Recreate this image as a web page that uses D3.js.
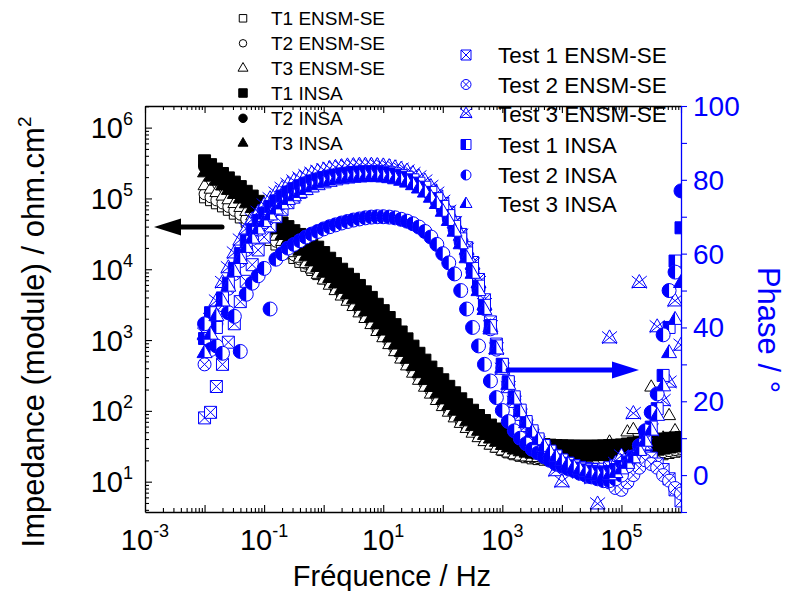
<!DOCTYPE html>
<html><head><meta charset="utf-8">
<script src="https://cdn.jsdelivr.net/npm/d3@7"></script>
<style>body{margin:0;background:#fff}svg{display:block}text{font-family:Arial,"Liberation Sans",sans-serif}</style>
</head><body><svg id="c" width="797" height="591"></svg>
<script>
// ---------- DATA ----------
const freqHz = [
0.0100,0.0126,0.0158,0.0200,0.0251,0.0316,0.0398,0.0501,0.0631,0.0794,
0.100,0.126,0.158,0.200,0.251,0.316,0.398,0.501,0.631,0.794,
1.00,1.26,1.58,2.00,2.51,3.16,3.98,5.01,6.31,7.94,
10.0,12.6,15.8,20.0,25.1,31.6,39.8,50.1,63.1,79.4,
100,126,158,200,251,316,398,501,631,794,
1000,1259,1585,1995,2512,3162,3981,5012,6310,7943,
10000,12589,15849,19953,25119,31623,39811,50119,63096,79433,
100000,125893,158489,199526,251189,316228,398107,501187,630957,794328,
1000000];

// |Z| in ohm.cm2
const zT1ENSM = [1.02e5,9.3e4,8.4e4,7.6e4,6.8e4,6.0e4,5.3e4,4.6e4,4.0e4,3.45e4,
2.95e4,2.55e4,2.2e4,1.9e4,1.65e4,1.42e4,1.25e4,1.1e4,9.6e3,8.4e3,
7.3e3,6.3e3,5.4e3,4.6e3,3.9e3,3.3e3,2.75e3,2.3e3,1.9e3,1.55e3,
1.26e3,1.01e3,800,635,505,400,318,255,204,165,
134,110,90,74,62,52,44.5,38.5,34,30.5,
27.5,25.5,24,22.8,21.8,21,20.5,20.1,19.8,19.6,
19.4,19.3,19.2,19.1,19.1,19.1,19.2,19.3,19.4,19.6,
19.8,20.1,20.5,21,21.5,22,23,24,25,26,27];
const zT2ENSM = [1.15e5,1.04e5,9.4e4,8.5e4,7.6e4,6.7e4,5.9e4,5.1e4,4.45e4,3.85e4,
3.3e4,2.85e4,2.45e4,2.1e4,1.82e4,1.57e4,1.37e4,1.2e4,1.05e4,9.2e3,
8.0e3,6.9e3,5.9e3,5.0e3,4.25e3,3.6e3,3.0e3,2.5e3,2.07e3,1.7e3,
1.38e3,1.1e3,875,695,550,437,347,278,222,179,
145,119,97,80,66.5,56,47.5,41,36,32,
29,26.8,25.1,23.8,22.8,22,21.5,21.1,20.8,20.6,
20.5,20.5,20.4,20.4,20.4,20.4,20.5,20.6,20.8,21,
21.3,21.7,22.2,22.8,23.5,24.2,25,26,27,28,29];
const zT3ENSM = [1.5e5,1.34e5,1.2e5,1.07e5,9.5e4,8.4e4,7.4e4,6.5e4,5.6e4,4.8e4,
4.1e4,3.45e4,2.9e4,2.45e4,2.05e4,1.7e4,1.42e4,1.19e4,1.0e4,8.4e3,
7.0e3,5.9e3,4.95e3,4.15e3,3.5e3,2.95e3,2.4e3,2.0e3,1.64e3,1.31e3,
1.07e3,855,680,535,428,338,268,214,171,139,
114,95,79,66,56,48,41.5,36.5,32.5,29.5,
27,25.2,23.8,22.8,22.2,21.9,21.7,21.5,21.4,21.3,
21.2,21.2,21.3,21.5,22,23,25,27,36,29,
26,50,54,34,47,215,32,41,85,52,30];
const zT1INSA = [3.4e5,3.0e5,2.6e5,2.25e5,1.95e5,1.7e5,1.47e5,1.26e5,1.08e5,9.1e4,
7.6e4,6.4e4,5.4e4,4.5e4,4.0e4,3.5e4,3.1e4,2.7e4,2.4e4,2.05e4,
1.72e4,1.43e4,1.2e4,1.0e4,8.5e3,7.2e3,5.9e3,4.8e3,4.0e3,3.2e3,
2.6e3,2.08e3,1.65e3,1.3e3,1.04e3,820,650,520,415,335,
275,222,180,148,122,102,86,73,63,55.5,
49.5,45,41,38.5,36.5,35,34,33.3,32.8,32.4,
32.1,31.9,31.8,31.7,31.7,31.7,31.8,32,32.3,32.6,
33,34,35,36,37,38,39,40,41,41.5,42];
const zT2INSA = [2.8e5,2.45e5,2.15e5,1.85e5,1.6e5,1.4e5,1.2e5,1.03e5,8.9e4,7.5e4,
6.2e4,5.2e4,4.4e4,3.7e4,3.1e4,2.75e4,2.4e4,2.05e4,1.74e4,1.46e4,
1.21e4,1.01e4,8.4e3,7.1e3,5.9e3,5.0e3,4.1e3,3.4e3,2.8e3,2.25e3,
1.84e3,1.47e3,1.16e3,920,735,580,460,370,297,238,
195,161,132,110,92,77.5,66,57,50,44.5,
39.5,36,33.5,31.5,30,28.8,28,27.3,26.8,26.5,
26.3,26.1,26,26,26,26,26,26.1,26.2,26.4,
26.6,27,27.5,28,28.5,29,29.5,30,31,32,33];
const zT3INSA = [2.3e5,2.0e5,1.75e5,1.5e5,1.3e5,1.14e5,9.8e4,8.4e4,7.2e4,6.1e4,
5.1e4,4.3e4,3.6e4,3.0e4,2.55e4,2.15e4,1.8e4,1.5e4,1.27e4,1.06e4,
8.8e3,7.4e3,6.2e3,5.2e3,4.35e3,3.7e3,3.0e3,2.5e3,2.05e3,1.64e3,
1.34e3,1.07e3,850,670,535,422,335,268,214,174,
143,119,99,83,70,60,51.5,45,40,36,
32.5,30,28,26.5,25.3,24.5,23.9,23.4,23.1,22.9,
22.7,22.6,22.5,22.5,22.5,22.5,22.6,22.7,22.9,23.1,
23.4,23.8,24.3,24.8,25.5,26,27,28,29,30,31];

// Phase in degrees
const pTest1ENSM = [15.5,17,24,30,36,41,47,52.5,57,61,
64.5,67.5,70,72,73.8,75.3,76.6,77.6,78.4,79.1,
79.7,80.2,80.6,81,81.3,81.5,81.7,81.8,81.9,81.9,
81.9,81.8,81.6,81.3,80.9,80.3,79.5,78.5,77.2,75.6,
73.6,71.2,68.4,65.2,61.6,57.6,53,47.5,41.5,35.5,
30,25,20.5,16.8,13.8,11.3,9.3,7.6,6.2,5.0,
4.0,3.2,2.6,2.1,1.8,1.6,1.5,1.6,2,2.5,
3,3.5,4,4.5,5,4.6,3,1.5,-1,-4,-7];
const pTest2ENSM = [30,36,41,46,50.5,54.5,58,61,64,66.5,
68.5,70.5,72.2,73.7,75,76.1,77.1,78,78.7,79.3,
79.8,80.3,80.7,81,81.3,81.5,81.6,81.7,81.7,81.7,
81.6,81.4,81.1,80.7,80.2,79.5,78.6,77.4,76,74.2,
72,69.4,66.4,63,59.2,55,50.2,45,39.5,34,
29,24.5,20.5,17,14,11.5,9.5,7.8,6.3,5,
3.9,3,2.2,1.5,0.9,0.3,-0.3,-1,-2,-3.5,
-4,-2,0,2,4,3,2,0,-1.5,-3.5,-5];
const pTest3ENSM = [38,42,47,52,56,60,63.5,66.5,69,71,
73,74.7,76.2,77.5,78.6,79.5,80.3,81,81.6,82.1,
82.5,82.9,83.2,83.4,83.6,83.7,83.8,83.8,83.8,83.7,
83.6,83.4,83.1,82.7,82.2,81.5,80.6,79.5,78,76.2,
74,71.3,68.2,64.8,61,57,52,46,40,34,
28.5,23.5,19.5,16,13,10.5,8.5,6.8,5.3,1,
-2,2,1.2,0.5,0,-1,-8,0,37,3,
5,4,16.5,52,8,12,40,20,25,47,35];
const pTest1INSA = [37,44,40,48,52,56,60,63.5,66.5,69,
71,72.8,74.3,75.6,76.7,77.6,78.4,79.1,79.7,80.2,
80.6,81,81.3,81.6,81.8,82,82.1,82.2,82.2,82.2,
82.1,81.9,81.6,81.2,80.7,80,79.1,78,76.6,74.9,
72.8,70.3,67.4,64,60.2,56,51.2,46,40.5,35,
30,25.3,21.2,17.6,14.5,12,9.8,8,6.5,5.2,
4.1,3.2,2.5,1.9,1.4,1,0.8,0.8,1,1.5,
2.3,3.5,5,7,9.5,13,18,27,40,58,67];
const pTest2INSA = [41,34,35,33,44,43,33.5,49,52,54,
56,45,58.5,60,61.5,62.5,63.5,64.5,65.3,66,
66.7,67.3,67.8,68.3,68.7,69.1,69.4,69.7,69.9,70,
70,69.9,69.7,69.3,68.8,68.1,67.2,66,64.5,62.5,
60,57.5,54.5,50,45,40,35,30,25.5,21,
17.5,14.5,12,10,8.5,7,6,5,4,3,
2.5,1.8,1.2,0.5,0,-0.5,-1,-1.5,-1.5,-1,
0,2.5,5,8,12,17,22,38,50,55,77];
const pTest3INSA = [33,38,43,47,51,55,58.5,61.5,64,66.5,
68.5,70.3,71.9,73.3,74.5,75.5,76.4,77.2,77.9,78.5,
79,79.4,79.8,80.1,80.3,80.5,80.6,80.7,80.7,80.7,
80.6,80.4,80.1,79.7,79.2,78.5,77.6,76.5,75.1,73.4,
71.3,68.8,65.9,62.5,58.7,54.5,49.8,44.7,39.4,34,
29,24.4,20.4,17,14,11.5,9.4,7.6,6.1,4.8,
3.7,2.8,2,1.3,0.7,0.2,-0.2,-0.3,-0.1,0.5,
1.5,3,4.5,6.5,9,12,16,24,33,42,52];

const impedanceNames = ["T1 ENSM-SE","T2 ENSM-SE","T3 ENSM-SE","T1 INSA","T2 INSA","T3 INSA"];
const phaseNames = ["Test 1 ENSM-SE","Test 2 ENSM-SE","Test 3 ENSM-SE","Test 1 INSA","Test 2 INSA","Test 3 INSA"];
const xLabelExps = [-3,-1,1,3,5];
const yLabelExps = [1,2,3,4,5,6];
const phaseLabels = [0,20,40,60,80,100];
const xTitle = "Fréquence / Hz";
const yTitle = "Impedance (module) / ohm.cm";
const y2Title = "Phase / °";

// ---------- STYLE ----------
const BLUE = "#0000ff";
const svg = d3.select("#c");
const P = {l:145, r:681, t:106, b:512};
const x = d3.scaleLog().domain([1e-3,1e6]).range([P.l,P.r]);
const yZ = d3.scaleLog().domain([3.73,2.02e6]).range([P.b,P.t]);
const yP = d3.scaleLinear().domain([-10,100]).range([P.b,P.t]);

function outlinePath(shape, s){
  const h = s*Math.sqrt(3)/2;
  if(shape==="square") return `M${-s/2},${-s/2}H${s/2}V${s/2}H${-s/2}Z`;
  if(shape==="circle"){const r=s/2;return `M${-r},0A${r},${r} 0 1,0 ${r},0A${r},${r} 0 1,0 ${-r},0Z`;}
  return `M0,${-2*h/3}L${s/2},${h/3}L${-s/2},${h/3}Z`;
}
function halfPath(shape, s){
  const h = s*Math.sqrt(3)/2;
  if(shape==="square") return `M${-s/2},${-s/2}H0V${s/2}H${-s/2}Z`;
  if(shape==="circle"){const r=s/2;return `M0,${-r}A${r},${r} 0 0,0 0,${r}Z`;}
  return `M0,${-2*h/3}L0,${h/3}L${-s/2},${h/3}Z`;
}
function crossPath(shape, s){
  if(shape==="circle"){const a=s/2*Math.SQRT1_2;return `M${-a},${-a}L${a},${a}M${a},${-a}L${-a},${a}`;}
  if(shape==="triangle"){const a=s/2;return `M${-a},${-a*0.95}L${a},${a*0.7}M${a},${-a*0.95}L${-a},${a*0.7}`;}
  const a=s/2;return `M${-a},${-a}L${a},${a}M${a},${-a}L${-a},${a}`;
}
function drawMarker(g, shape, mode, s, color, sw){
  const fill = mode==="filled" ? color : "#fff";
  g.append("path").attr("d", outlinePath(shape,s)).attr("fill", fill).attr("stroke", color).attr("stroke-width", sw);
  if(mode==="half") g.append("path").attr("d", halfPath(shape,s)).attr("fill", color).attr("stroke","none");
  if(mode==="cross") g.append("path").attr("d", crossPath(shape,s)).attr("fill","none").attr("stroke", color).attr("stroke-width", sw);
}

const zSeries = [
  {v:zT1ENSM, shape:"square", mode:"open", s:10},
  {v:zT2ENSM, shape:"circle", mode:"open", s:11},
  {v:zT3ENSM, shape:"triangle", mode:"open", s:13},
  {v:zT1INSA, shape:"square", mode:"filled", s:12},
  {v:zT2INSA, shape:"circle", mode:"filled", s:12},
  {v:zT3INSA, shape:"triangle", mode:"filled", s:14}
];
const pSeries = [
  {v:pTest1ENSM, shape:"square", mode:"cross", s:12},
  {v:pTest2ENSM, shape:"circle", mode:"cross", s:13},
  {v:pTest3ENSM, shape:"triangle", mode:"cross", s:15},
  {v:pTest1INSA, shape:"square", mode:"half", s:12},
  {v:pTest2INSA, shape:"circle", mode:"half", s:14},
  {v:pTest3INSA, shape:"triangle", mode:"half", s:15}
];

svg.append("defs").append("clipPath").attr("id","clip")
  .append("rect").attr("x",P.l).attr("y",P.t).attr("width",P.r-P.l).attr("height",P.b-P.t);
const data = svg.append("g").attr("clip-path","url(#clip)");

zSeries.forEach(sr=>{
  data.append("g").selectAll("g").data(freqHz.map((f,i)=>({f, v:sr.v[i]}))).join("g")
    .attr("transform", d=>`translate(${x(d.f)},${yZ(d.v)})`)
    .each(function(){ drawMarker(d3.select(this), sr.shape, sr.mode, sr.s, "#000", 1); });
});
pSeries.forEach(sr=>{
  data.append("g").selectAll("g").data(freqHz.map((f,i)=>({f, v:sr.v[i]}))).join("g")
    .attr("transform", d=>`translate(${x(d.f)},${yP(d.v)})`)
    .each(function(){ drawMarker(d3.select(this), sr.shape, sr.mode, sr.s, BLUE, 1); });
});

// ---------- AXES ----------
const decades = d3.range(-3,7).map(e=>Math.pow(10,e));
const xMinor = [];
d3.range(-3,6).forEach(e=>{for(let k=2;k<=9;k++) xMinor.push(k*Math.pow(10,e));});
const yDecades = d3.range(1,7).map(e=>Math.pow(10,e));
const yMinor = [];
d3.range(0,7).forEach(e=>{for(let k=2;k<=9;k++){const v=k*Math.pow(10,e); if(v>=3.73&&v<=2.02e6) yMinor.push(v);}});

function styleAxis(g, color){
  g.selectAll("path.domain").attr("stroke", color).attr("stroke-width",1.3);
  g.selectAll(".tick line").attr("stroke", color).attr("stroke-width",1.1);
  g.selectAll(".tick text").remove();
}
svg.append("g").attr("transform",`translate(0,${P.b})`)
  .call(d3.axisBottom(x).tickValues(decades).tickSize(-7).tickSizeOuter(0)).call(g=>styleAxis(g,"#000"));
svg.append("g").attr("transform",`translate(0,${P.b})`)
  .call(d3.axisBottom(x).tickValues(xMinor).tickSize(-4).tickSizeOuter(0)).call(g=>{styleAxis(g,"#000");g.select(".domain").remove();});
svg.append("g").attr("transform",`translate(0,${P.t})`)
  .call(d3.axisTop(x).tickValues(decades).tickSize(-7).tickSizeOuter(0)).call(g=>styleAxis(g,"#000"));
svg.append("g").attr("transform",`translate(0,${P.t})`)
  .call(d3.axisTop(x).tickValues(xMinor).tickSize(-4).tickSizeOuter(0)).call(g=>{styleAxis(g,"#000");g.select(".domain").remove();});
svg.append("g").attr("transform",`translate(${P.l},0)`)
  .call(d3.axisLeft(yZ).tickValues(yDecades).tickSize(-7).tickSizeOuter(0)).call(g=>styleAxis(g,"#000"));
svg.append("g").attr("transform",`translate(${P.l},0)`)
  .call(d3.axisLeft(yZ).tickValues(yMinor).tickSize(-4).tickSizeOuter(0)).call(g=>{styleAxis(g,"#000");g.select(".domain").remove();});
svg.append("g").attr("transform",`translate(${P.r},0)`)
  .call(d3.axisRight(yP).tickValues(d3.range(-10,101,10)).tickSize(6).tickSizeOuter(0)).call(g=>styleAxis(g,BLUE));

// tick labels
const lbl = svg.append("g");
xLabelExps.forEach(e=>{
  const t = lbl.append("text").attr("x", x(Math.pow(10,e))).attr("y", 550).attr("text-anchor","middle")
    .attr("font-size",29).attr("fill","#000");
  t.append("tspan").text("10");
  t.append("tspan").attr("dy",-13).attr("font-size",18).text(e<0? "-"+(-e) : String(e));
});
yLabelExps.forEach(e=>{
  const t = lbl.append("text").attr("x", 133).attr("y", yZ(Math.pow(10,e))+10.5).attr("text-anchor","end")
    .attr("font-size",29).attr("fill","#000");
  t.append("tspan").text("10");
  t.append("tspan").attr("dy",-13).attr("font-size",18).text(String(e));
});
phaseLabels.forEach(v=>{
  lbl.append("text").attr("x", 693).attr("y", yP(v)+10).attr("font-size",28).attr("fill",BLUE).text(v);
});

// axis titles
lbl.append("text").attr("x",392).attr("y",586).attr("text-anchor","middle").attr("font-size",29).text(xTitle);
const yt = lbl.append("text").attr("transform","translate(44,332) rotate(-90)").attr("text-anchor","middle").attr("font-size",31);
yt.append("tspan").text(yTitle);
yt.append("tspan").attr("dy",-13).attr("font-size",19).text("2");
lbl.append("text").attr("transform","translate(758,330) rotate(90)").attr("text-anchor","middle")
  .attr("font-size",31).attr("fill",BLUE).text(y2Title);

// arrows
svg.append("line").attr("x1",222).attr("y1",227).attr("x2",178).attr("y2",227)
  .attr("stroke","#000").attr("stroke-width",5).attr("stroke-linecap","round");
svg.append("path").attr("d","M154,227L181,218.5L181,235.5Z").attr("fill","#000");
svg.append("line").attr("x1",508).attr("y1",370).attr("x2",614).attr("y2",370)
  .attr("stroke",BLUE).attr("stroke-width",5).attr("stroke-linecap","round");
svg.append("path").attr("d","M639,370L612,361.5L612,378.5Z").attr("fill",BLUE);

// legends
const legL = svg.append("g");
const leftRows = [18.3,43.3,68.3,93,118.3,143.3];
zSeries.forEach((sr,i)=>{
  const g = legL.append("g").attr("transform",`translate(243,${leftRows[i]})`);
  drawMarker(g, sr.shape, sr.mode, sr.shape==="triangle"?10:(sr.mode==="open"?7.5:8.5), "#000", 1);
  legL.append("text").attr("x",271).attr("y",leftRows[i]+7).attr("font-size",19).attr("fill","#000").text(impedanceNames[i]);
});
const legR = svg.append("g");
const rightRows = [55,84.5,114,144.5,175,204];
pSeries.forEach((sr,i)=>{
  const g = legR.append("g").attr("transform",`translate(466,${rightRows[i]})`);
  drawMarker(g, sr.shape, sr.mode, sr.shape==="triangle"?12:10, BLUE, 1);
  legR.append("text").attr("x",498).attr("y",rightRows[i]+8).attr("font-size",22.5).attr("fill","#000").text(phaseNames[i]);
});
</script></body></html>
